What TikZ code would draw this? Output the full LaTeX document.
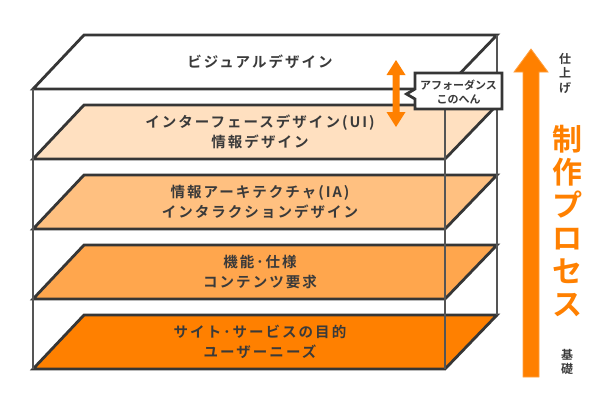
\documentclass[tikz,border=0pt]{standalone}
\usepackage{fontspec}
\newfontfamily\jpfont{Noto Sans CJK JP Bold}[LetterSpace=14]
\newfontfamily\jpplain{Noto Sans CJK JP Bold}

\definecolor{edgegray}{HTML}{363636}
\definecolor{framegray}{HTML}{555555}
\definecolor{textgray}{HTML}{3A3A3A}
\definecolor{layA}{HTML}{FFFFFF}
\definecolor{layB}{HTML}{FFE0C0}
\definecolor{layC}{HTML}{FFC080}
\definecolor{layD}{HTML}{FFA64D}
\definecolor{layE}{HTML}{FF8000}
\definecolor{procorange}{HTML}{FF8000}
\definecolor{arrowedge}{HTML}{FFA040}

\begin{document}
\begin{tikzpicture}[
    x=1pt, y=-1pt,
    layer/.style={line width=2.8pt, draw=edgegray, line join=miter},
    frame/.style={line width=1.1pt, draw=framegray},
    laytext/.style={font=\jpfont\fontsize{14.5}{20}\selectfont, text=textgray, align=center},
    calltext/.style={font=\jpplain\fontsize{11}{14}\selectfont, text=textgray, align=center},
    sidelbl/.style={font=\jpplain\fontsize{12}{14.5}\selectfont, text=textgray, align=center},
    proclbl/.style={font=\jpplain\fontsize{30}{33}\selectfont, text=procorange, align=center},
]
\useasboundingbox (0,0) rectangle (600,400);

% #1 top y, #2 fill, #3 name, #4 text
\newcommand{\layer}[4]{
    \filldraw[layer, fill=#2]
        (33,{#1+54}) -- (445,{#1+54}) -- (497,#1) -- (84,#1) -- cycle;
    \node[laytext] (#3) at (260,{#1+27}) {#4};
}

% Layers, top to bottom
\layer{35}{layA}{visual}{ビジュアルデザイン}
\layer{105}{layB}{ui}{インターフェースデザイン(UI)\\情報デザイン}
\layer{175}{layC}{ia}{情報アーキテクチャ(IA)\\インタラクションデザイン}
\layer{245}{layD}{spec}{機能･仕様\\コンテンツ要求}
\layer{315}{layE}{goal}{サイト･サービスの目的\\ユーザーニーズ}

% Box frame
\draw[frame] (33,89) -- (33,369);
\draw[frame] (445,89) -- (445,369);
\draw[frame] (497,35) -- (497,315);

% Double arrow
\fill[procorange]
    (396,60) -- (405.5,75) -- (399.5,75) -- (399.5,112) -- (405.5,112) --
    (396,127) -- (386.5,112) -- (392.5,112) -- (392.5,75) -- (386.5,75) -- cycle;

% Callout
\filldraw[fill=white, draw=edgegray, line width=2.8pt, line join=miter]
    (415,73) -- (502,73) -- (502,109) -- (415,109) -- (415,99) --
    (406.5,94) -- (415,89) -- cycle;
\node[calltext] (afford) at (458.5,92) {アフォーダンス\\このへん};

% Process arrow
\fill[procorange, draw=arrowedge, line width=0.8pt]
    (523,377) -- (523,72) -- (514,72) -- (531,49) -- (548,72) --
    (539,72) -- (539,377) -- cycle;

% Side labels
\node[sidelbl] (finish) at (565,73) {仕\\上\\げ};
\node[proclbl] (process) at (567,221) {制\\作\\プ\\ロ\\セ\\ス};
\node[sidelbl] (basis) at (567,362) {基\\礎};

\end{tikzpicture}
\end{document}
